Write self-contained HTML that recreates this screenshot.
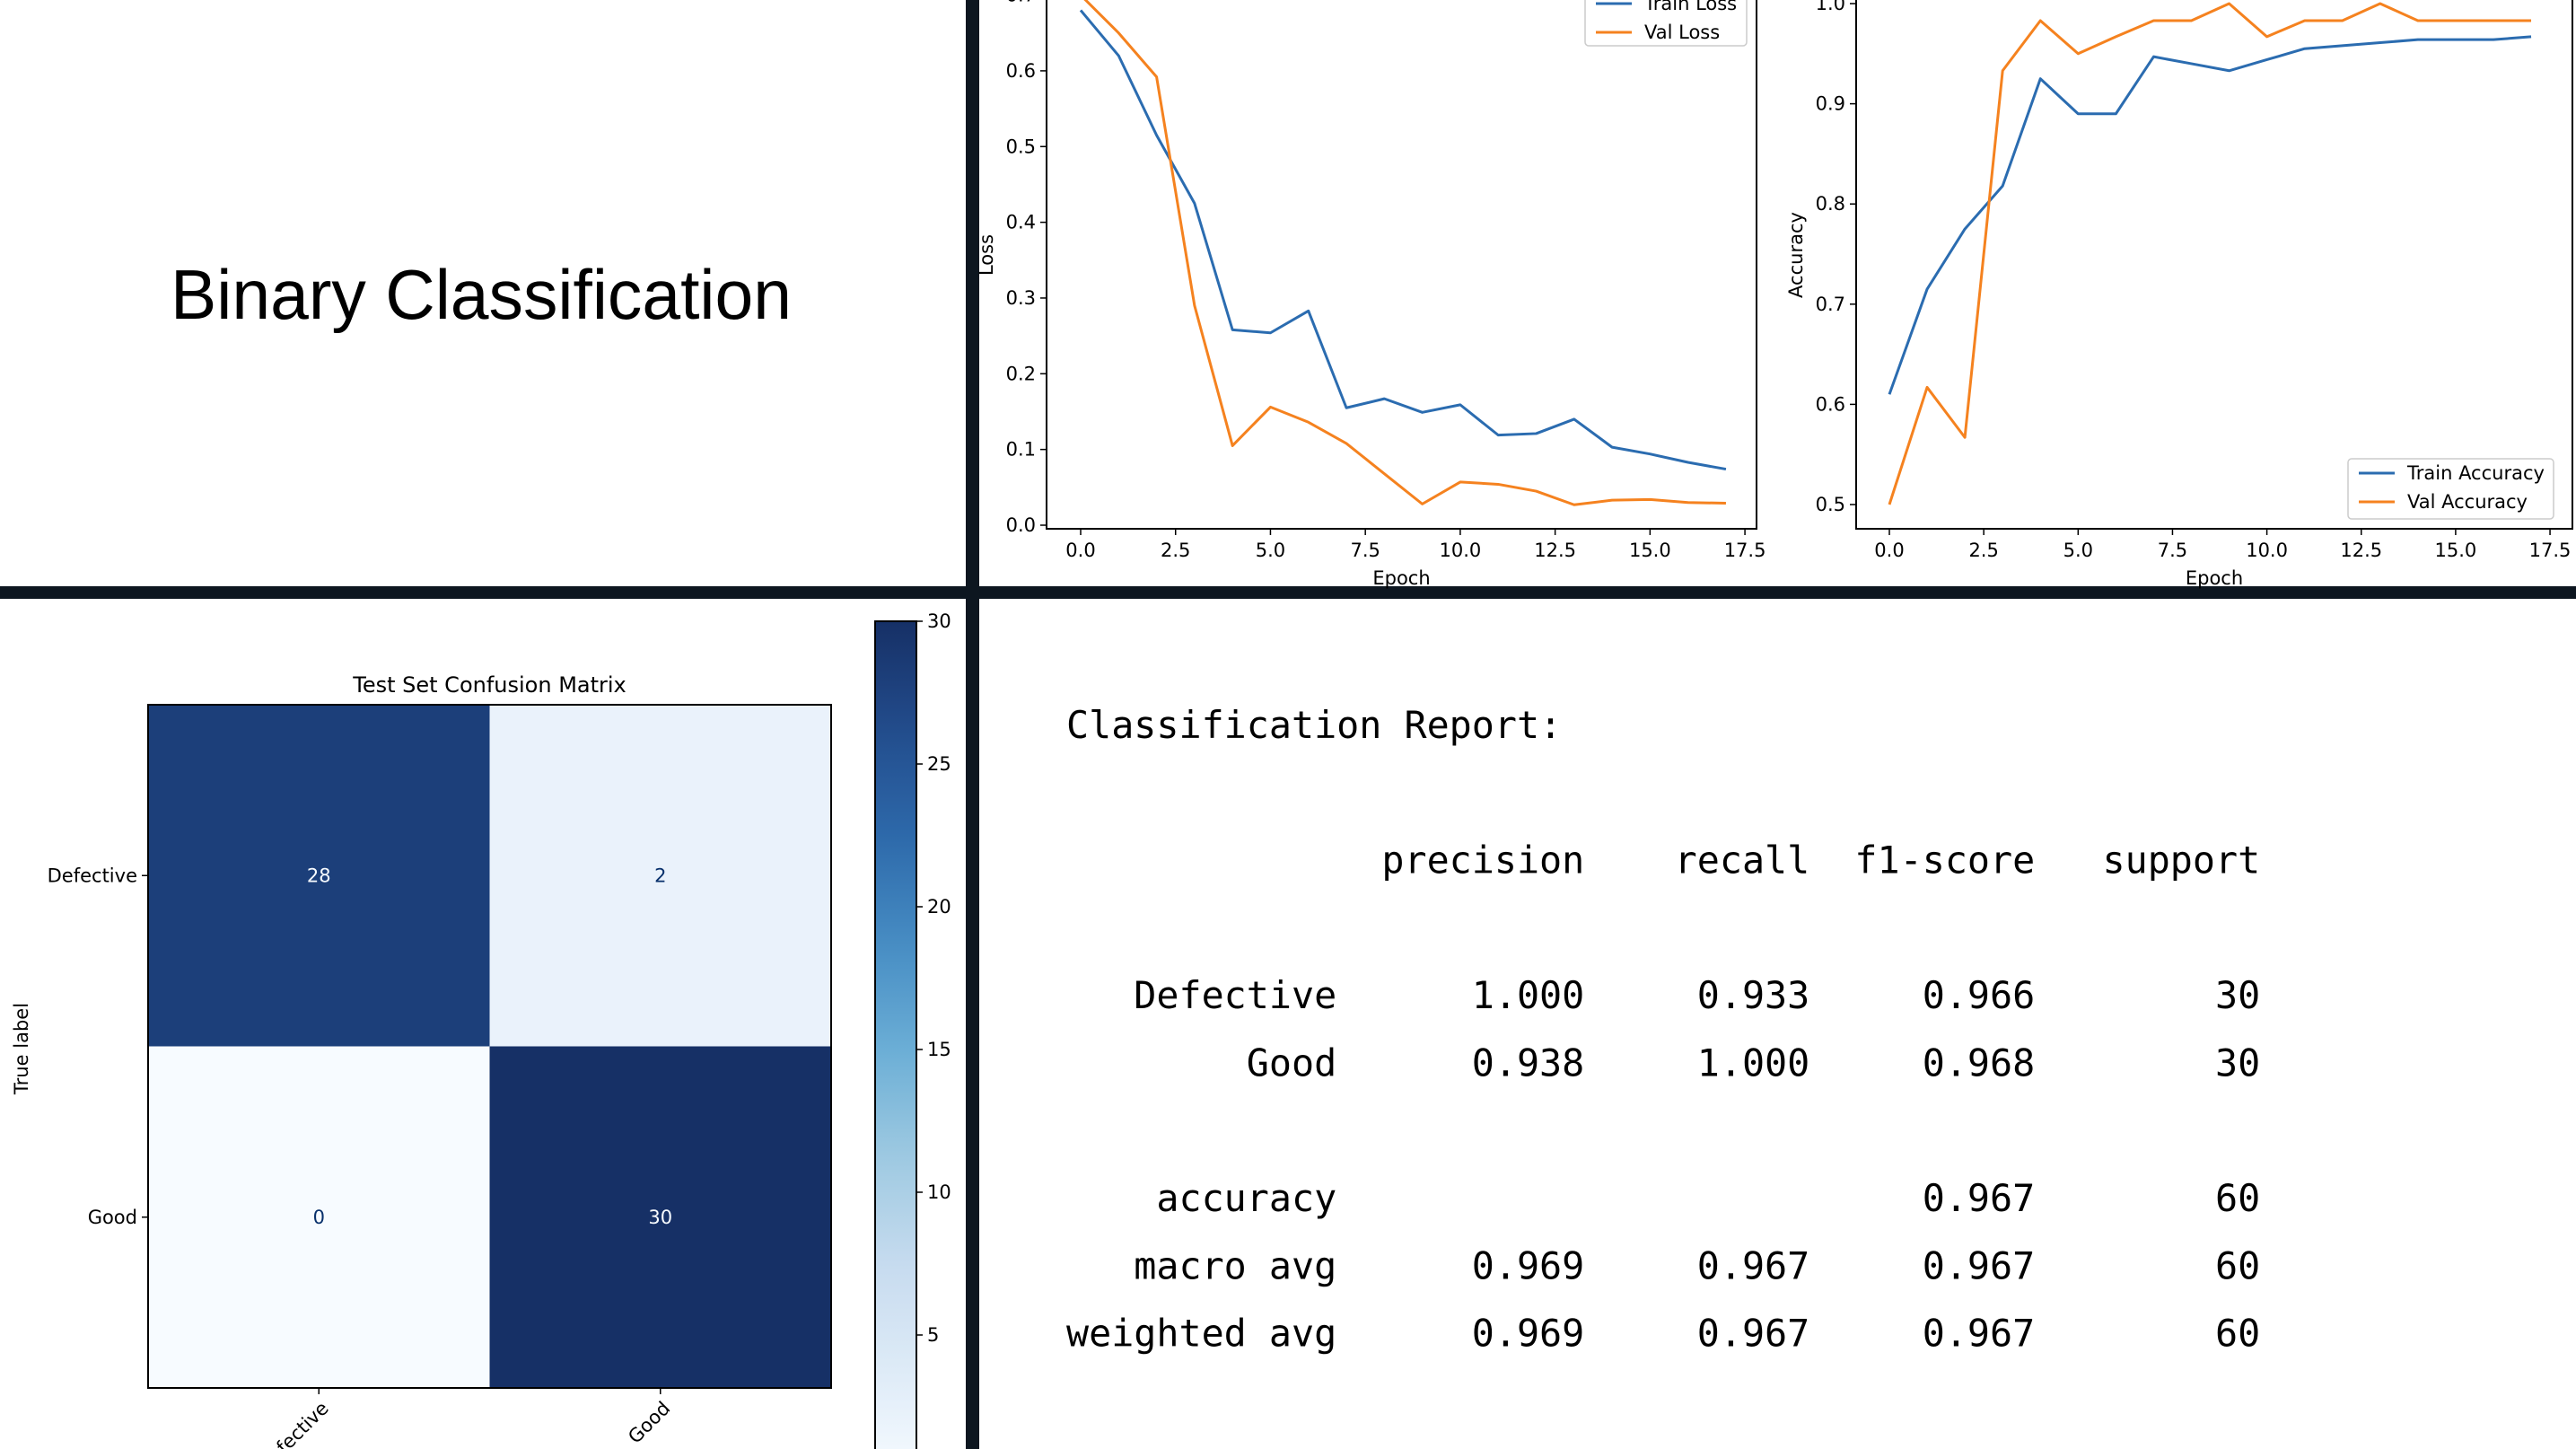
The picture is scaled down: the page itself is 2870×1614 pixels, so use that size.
<!DOCTYPE html>
<html><head><meta charset="utf-8"><style>
html,body{margin:0;padding:0;background:#0d1620;}
svg{display:block;}
text{font-family:"DejaVu Sans","Liberation Sans",sans-serif;}
</style></head><body>
<svg id="root" width="2870" height="1614" viewBox="0 0 2870 1614" xmlns="http://www.w3.org/2000/svg">
<rect x="0" y="0" width="2870" height="1614" fill="#0d1620"/>
<rect x="0" y="0" width="1076" height="653" fill="#fff"/>
<rect x="1091" y="0" width="1779" height="653" fill="#fff"/>
<rect x="0" y="667" width="1076" height="947" fill="#fff"/>
<rect x="1091" y="667" width="1779" height="947" fill="#fff"/>
<text x="536" y="355" font-size="78" text-anchor="middle" textLength="692" lengthAdjust="spacingAndGlyphs" fill="#000" style="font-family:'Liberation Sans',sans-serif">Binary Classification</text>
<g id="loss"></g>
<g id="acc"></g>
<g id="cm"></g>
<text x="1188" y="822" font-size="41.7" fill="#000" style="font-family:'DejaVu Sans Mono','Liberation Mono',monospace;white-space:pre"><tspan x="1188">Classification Report:</tspan><tspan x="1188" dy="150.6">              precision    recall  f1-score   support</tspan><tspan x="1188" dy="150.6">   Defective      1.000     0.933     0.966        30</tspan><tspan x="1188" dy="75.3">        Good      0.938     1.000     0.968        30</tspan><tspan x="1188" dy="150.6">    accuracy                          0.967        60</tspan><tspan x="1188" dy="75.3">   macro avg      0.969     0.967     0.967        60</tspan><tspan x="1188" dy="75.3">weighted avg      0.969     0.967     0.967        60</tspan></text>
</svg>
<script>
const epochs=[0,1,2,3,4,5,6,7,8,9,10,11,12,13,14,15,16,17];
const trainLoss=[0.68,0.62,0.515,0.425,0.258,0.254,0.283,0.155,0.167,0.149,0.159,0.119,0.121,0.140,0.103,0.094,0.083,0.074];
const valLoss=[0.70,0.65,0.592,0.29,0.105,0.156,0.136,0.108,0.068,0.028,0.057,0.054,0.045,0.027,0.033,0.034,0.030,0.029];
const trainAcc=[0.61,0.715,0.775,0.818,0.925,0.89,0.89,0.947,0.94,0.933,0.944,0.955,0.958,0.961,0.964,0.964,0.964,0.967];
const valAcc=[0.50,0.617,0.567,0.933,0.983,0.95,0.967,0.983,0.983,1.0,0.967,0.983,0.983,1.0,0.983,0.983,0.983,0.983];
const xTicks=[0,2.5,5,7.5,10,12.5,15,17.5];
const xTickLabels=["0.0","2.5","5.0","7.5","10.0","12.5","15.0","17.5"];
const lossTicks=[0,0.1,0.2,0.3,0.4,0.5,0.6,0.7];
const lossTickLabels=["0.0","0.1","0.2","0.3","0.4","0.5","0.6","0.7"];
const accTicks=[0.5,0.6,0.7,0.8,0.9,1.0];
const accTickLabels=["0.5","0.6","0.7","0.8","0.9","1.0"];
const cmRows=["Defective","Good"];
const cmCols=["Defective","Good"];
const cmValues=[[28,2],[0,30]];
const cbTicks=[5,10,15,20,25,30];
const cbTickLabels=["5","10","15","20","25","30"];
const NS="http://www.w3.org/2000/svg";
function mk(parent,tag,attrs,txt){const e=document.createElementNS(NS,tag);for(const k in attrs)e.setAttribute(k,attrs[k]);if(txt!==undefined)e.textContent=txt;parent.appendChild(e);return e;}

function lineChart(g,cfg){
  const sx=v=>cfg.x0+v*cfg.xs, sy=v=>cfg.y0-(v-cfg.vmin)*cfg.ys;
  const frame=mk(g,'rect',{x:cfg.l,y:-5,width:cfg.r-cfg.l,height:cfg.b+5,fill:'none',stroke:'#000','stroke-width':2});
  
  
  xTicks.forEach((t,i)=>{
    const ln=mk(g,'line',{x1:sx(t),x2:sx(t),y1:cfg.b,y2:cfg.b+7,stroke:'#000','stroke-width':1.5});
    
    
    const tx=mk(g,'text',{x:sx(t),y:cfg.b+31,'font-size':21,'text-anchor':'middle'},xTickLabels[i]);
    
    
  });
  cfg.yt.forEach((t,i)=>{
    const ln=mk(g,'line',{x1:cfg.l-7,x2:cfg.l,y1:sy(t),y2:sy(t),stroke:'#000','stroke-width':1.5});
    
    
    const tx=mk(g,'text',{x:cfg.l-12,y:sy(t)+7,'font-size':21,'text-anchor':'end'},cfg.ytl[i]);
    
    
  });
  const xl=mk(g,'text',{x:(cfg.l+cfg.r)/2,y:651,'font-size':21,'text-anchor':'middle'},'Epoch');
  
  
  const yl=mk(g,'text',{x:0,y:0,'font-size':21,'text-anchor':'middle',transform:`translate(${cfg.l-60},284) rotate(-90)`},cfg.ylabel);
  
  
  cfg.series.forEach(s=>{
    const p=mk(g,'polyline',{points:epochs.map((e,i)=>sx(e)+','+sy(s.v[i])).join(' '),fill:'none',stroke:s.c,'stroke-width':3,'stroke-linejoin':'round'});
    
    
  });
  const L=cfg.leg;
  const box=mk(g,'rect',{x:L.x,y:L.y,width:L.w,height:L.h,rx:4,fill:'#fff','fill-opacity':0.85,stroke:'#ccc','stroke-width':1.5});
  
  
  cfg.series.forEach((s,i)=>{
    const yy=L.y+L.fy+i*32;
    const ln=mk(g,'line',{x1:L.x+12,x2:L.x+52,y1:yy,y2:yy,stroke:s.c,'stroke-width':3});
    
    
    const tx=mk(g,'text',{x:L.x+66,y:yy+7,'font-size':21},s.label);
    
    
  });
}
lineChart(document.getElementById('loss'),{l:1166,r:1957,b:589,x0:1204,xs:42.29,y0:585,vmin:0,ys:843.5,
  yt:lossTicks,ytl:lossTickLabels,ylabel:'Loss',
  series:[{v:trainLoss,c:'#2b6cb0',n:'train-loss-line',label:'Train Loss'},{v:valLoss,c:'#f5821f',n:'val-loss-line',label:'Val Loss'}],
  leg:{x:1766,y:-20,w:180,h:71,fy:24}});
lineChart(document.getElementById('acc'),{l:2068,r:2866,b:589,x0:2105,xs:42.06,y0:562,vmin:0.5,ys:1116,
  yt:accTicks,ytl:accTickLabels,ylabel:'Accuracy',
  series:[{v:trainAcc,c:'#2b6cb0',n:'train-accuracy-line',label:'Train Accuracy'},{v:valAcc,c:'#f5821f',n:'val-accuracy-line',label:'Val Accuracy'}],
  leg:{x:2616,y:511,w:229,h:67,fy:16}});

// confusion matrix
const cm=document.getElementById('cm');
const blues=[[0,[247,251,255]],[0.125,[222,235,247]],[0.25,[198,219,239]],[0.375,[158,202,225]],[0.5,[107,174,214]],[0.625,[70,140,195]],[0.75,[45,105,170]],[0.875,[34,76,140]],[1,[22,48,102]]];
function blue(t){for(let i=1;i<blues.length;i++){if(t<=blues[i][0]){const a=blues[i-1],b=blues[i],f=(t-a[0])/(b[0]-a[0]);return 'rgb('+a[1].map((c,k)=>Math.round(c+(b[1][k]-c)*f)).join(',')+')';}}return 'rgb(22,48,102)';}
const cmL=165,cmT=785,cell=380.5,vmax=30;
const ttl=mk(cm,'text',{x:cmL+cell,y:771,'font-size':24,'text-anchor':'middle'},'Test Set Confusion Matrix');


cmValues.forEach((row,r)=>row.forEach((v,c)=>{
  const rc=mk(cm,'rect',{x:cmL+c*cell,y:cmT+r*cell,width:cell,height:cell,fill:blue(v/vmax)});
  
  
  const tx=mk(cm,'text',{x:cmL+c*cell+cell/2,y:cmT+r*cell+cell/2+7,'font-size':21,'text-anchor':'middle',fill:v/vmax>0.5?'#f7fbff':'#08306b'},String(v));
  
  
}));
const cmf=mk(cm,'rect',{x:cmL,y:cmT,width:2*cell,height:2*cell,fill:'none',stroke:'#000','stroke-width':2});


cmRows.forEach((n,i)=>{
  const y=cmT+i*cell+cell/2;
  const ln=mk(cm,'line',{x1:cmL-7,x2:cmL,y1:y,y2:y,stroke:'#000','stroke-width':1.5});
  
  
  const tx=mk(cm,'text',{x:cmL-12,y:y+7,'font-size':21,'text-anchor':'end'},n);
  
  
});
cmCols.forEach((n,i)=>{
  const x=cmL+i*cell+cell/2, y=cmT+2*cell;
  const ln=mk(cm,'line',{x1:x,x2:x,y1:y,y2:y+7,stroke:'#000','stroke-width':1.5});
  
  
  const tx=mk(cm,'text',{x:0,y:0,'font-size':21,'text-anchor':'end',transform:`translate(${x+12},${y+24}) rotate(-45)`},n);
  
  
});
const tl=mk(cm,'text',{x:0,y:0,'font-size':21,'text-anchor':'middle',transform:'translate(31,1168) rotate(-90)'},'True label');


// colorbar
const cbX=975,cbW=46,cbTop=692,cbPer=31.8;
const defs=mk(cm,'defs',{});
const grad=mk(defs,'linearGradient',{id:'cbg',x1:0,y1:1,x2:0,y2:0});
for(let i=0;i<=20;i++){mk(grad,'stop',{offset:(i/20),'stop-color':blue(i/20)});}
const cbBot=cbTop+vmax*cbPer;
const cb=mk(cm,'rect',{x:cbX,y:cbTop,width:cbW,height:cbBot-cbTop,fill:'url(#cbg)',stroke:'#000','stroke-width':2});


cbTicks.forEach((t,i)=>{
  const y=cbBot-t*cbPer;
  const ln=mk(cm,'line',{x1:cbX+cbW,x2:cbX+cbW+7,y1:y,y2:y,stroke:'#000','stroke-width':1.5});
  
  
  const tx=mk(cm,'text',{x:cbX+cbW+12,y:y+7,'font-size':21},cbTickLabels[i]);
  
  
});
</script>
</body></html>
